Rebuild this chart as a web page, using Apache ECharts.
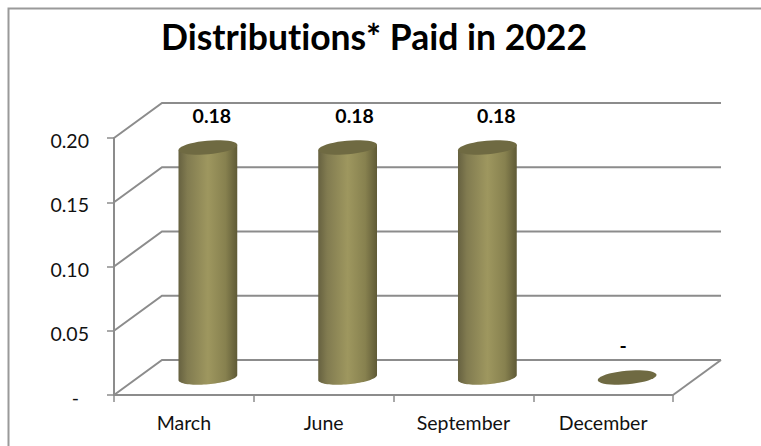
<!DOCTYPE html>
<html>
<head>
<meta charset="utf-8">
<style>html,body{margin:0;padding:0;background:#fff}#c{width:761px;height:446px}#c text{font-variant-ligatures:none}</style>
<script src="https://cdn.jsdelivr.net/npm/echarts@6/dist/echarts.min.js"></script>
</head>
<body>
<div id="c"></div>
<script>
const titleText = 'Distributions* Paid in 2022';
const categories = ['March', 'June', 'September', 'December'];
const distributions = [0.179, 0.179, 0.179, 0];
const valueTicks = [0, 0.05, 0.10, 0.15, 0.20];

const FONT = 'Lato';
const DX = 48, DY = -35;
const RX = 29.5, RY = 6.8, TILT = -0.09;
const LABEL_SHIFT = [4, 7, 9, -4];
const LINE = '#8c8c8c';
const fmt = v => v === 0 ? '-' : v.toFixed(2);

function ellipsePts(cx, cy, from, to) {
  const pts = [];
  for (let i = 0; i <= 40; i++) {
    const a = from + (to - from) * i / 40;
    const x = RX * Math.cos(a), y = RY * Math.sin(a);
    pts.push([cx + x * Math.cos(TILT) - y * Math.sin(TILT), cy + x * Math.sin(TILT) + y * Math.cos(TILT)]);
  }
  return pts;
}

const chart = echarts.init(document.getElementById('c'), null, {renderer: 'svg'});
chart.setOption({
  animation: false,
  backgroundColor: '#fff',
  title: {
    text: titleText, left: 369, top: 13, textAlign: 'center',
    textStyle: {fontFamily: FONT, fontSize: 35.5, fontWeight: 'bold', color: '#000'}
  },
  graphic: [{
    type: 'polyline', silent: true,
    shape: {points: [[8.5, 446], [8.5, 8.5], [761, 8.5]]},
    style: {stroke: '#9a9a9a', lineWidth: 2, fill: null}
  }],
  grid: {left: 114, top: 138, width: 559, height: 257},
  xAxis: {
    type: 'category', data: categories, boundaryGap: true,
    axisLine: {lineStyle: {color: LINE, width: 2}},
    axisTick: {show: true, alignWithLabel: false, length: 7, lineStyle: {color: LINE, width: 1.5}},
    axisLabel: {fontFamily: FONT, fontSize: 19.5, color: '#111', margin: 17},
    z: 3
  },
  yAxis: {
    type: 'value', min: 0, max: 0.2, interval: 0.05,
    axisLine: {show: true, lineStyle: {color: LINE, width: 2}},
    axisTick: {show: true, length: 7, lineStyle: {color: LINE, width: 1.5}},
    axisLabel: {fontFamily: FONT, fontSize: 19.5, color: '#111', margin: 25, verticalAlign: 'top', lineHeight: 5,
      formatter: v => v === 0 ? '-\u00a0\u00a0' : v.toFixed(2)},
    splitLine: {show: false}
  },
  series: [
    {
      type: 'custom', coordinateSystem: 'cartesian2d', silent: true, z: 1,
      data: valueTicks.map(v => [0, v]),
      renderItem(params, api) {
        const r = params.coordSys;
        const y = api.coord([0, api.value(1)])[1];
        const x0 = r.x, x1 = r.x + r.width;
        const children = [{
          type: 'polyline',
          shape: {points: [[x0, y], [x0 + DX, y + DY], [x1 + DX, y + DY]]},
          style: {stroke: LINE, lineWidth: 2, fill: null}
        }];
        if (api.value(1) === 0) children.push({
          type: 'line', shape: {x1: x1, y1: y, x2: x1 + DX, y2: y + DY},
          style: {stroke: LINE, lineWidth: 2}
        });
        return {type: 'group', children};
      }
    },
    {
      type: 'custom', coordinateSystem: 'cartesian2d', silent: true, z: 2,
      data: distributions.map((v, i) => [i, v]),
      renderItem(params, api) {
        const v = api.value(1);
        const base = api.coord([api.value(0), 0]);
        const top = api.coord([api.value(0), v]);
        const cx = base[0] + DX / 2, by = base[1] + DY / 2, ty = top[1] + DY / 2;
        const children = [];
        if (v > 0) {
          const lower = ellipsePts(cx, by, Math.PI, 0);
          const upper = [[cx + RX * Math.cos(TILT), ty + RX * Math.sin(TILT)], [cx - RX * Math.cos(TILT), ty - RX * Math.sin(TILT)]];
          children.push({
            type: 'polygon',
            shape: {points: lower.concat(upper)},
            style: {fill: new echarts.graphic.LinearGradient(0, 0, 1, 0, [
              {offset: 0, color: '#666140'},
              {offset: 0.15, color: '#817b50'},
              {offset: 0.5, color: '#9e975f'},
              {offset: 0.8, color: '#87814f'},
              {offset: 1, color: '#5f5a36'}
            ])}
          });
        }
        children.push({
          type: 'polygon',
          shape: {points: ellipsePts(cx, ty, 0, Math.PI * 2)},
          style: {fill: '#6f6a42'}
        });
        children.push({
          type: 'text',
          style: {
            text: fmt(v), x: cx + LABEL_SHIFT[params.dataIndex], y: ty - 32,
            align: 'center', verticalAlign: 'middle',
            font: 'bold 19.5px ' + FONT, fill: '#000'
          }
        });
        return {type: 'group', children};
      }
    }
  ]
});
</script>
</body>
</html>
